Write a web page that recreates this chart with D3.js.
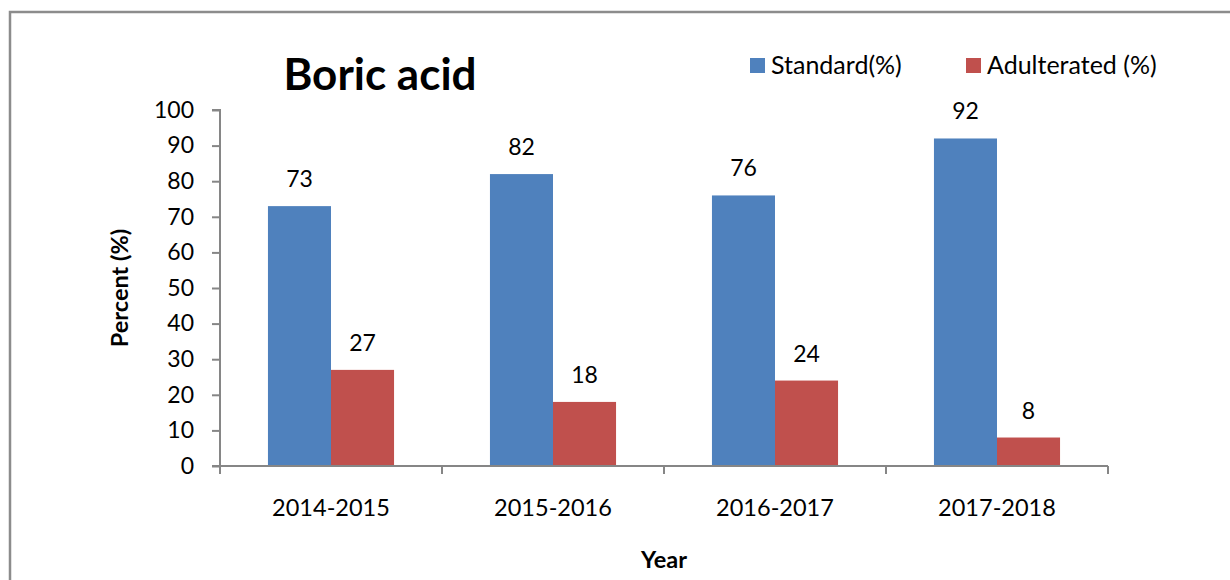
<!DOCTYPE html>
<html>
<head>
<meta charset="utf-8">
<script src="https://cdn.jsdelivr.net/npm/d3@7"></script>
<style>
  html, body { margin: 0; padding: 0; background: #fff; }
  svg { display: block; font-family: Lato, "Open Sans", sans-serif; }
</style>
</head>
<body>
<svg id="chart" width="1230" height="580"></svg>
<script>
const years = ["2014-2015", "2015-2016", "2016-2017", "2017-2018"];
const standard = [73, 82, 76, 92];
const adulterated = [27, 18, 24, 8];
const seriesNames = ["Standard(%)", "Adulterated (%)"];
const seriesColors = ["#4F81BD", "#C0504D"];
const yTicks = [0, 10, 20, 30, 40, 50, 60, 70, 80, 90, 100];

const svg = d3.select("#chart");
const W = 1230, H = 580;

// outer border (extends beyond right/bottom edges)
svg.append("rect")
  .attr("x", 10).attr("y", 12)
  .attr("width", W + 20).attr("height", H + 20)
  .attr("fill", "#fff").attr("stroke", "#8c8c8c").attr("stroke-width", 2.5);

const plot = { left: 220, right: 1108, top: 110, bottom: 466 };

const x = d3.scaleBand().domain(years).range([plot.left, plot.right]).padding(0);
const y = d3.scaleLinear().domain([0, 100]).range([plot.bottom, plot.top]);
const barW = x.bandwidth() * 0.284;

const series = [standard, adulterated];

const g = svg.append("g");
series.forEach((vals, si) => {
  g.selectAll(".bar" + si).data(vals).enter().append("rect")
    .attr("x", (d, i) => x(years[i]) + x.bandwidth() / 2 + (si - 1) * barW)
    .attr("y", d => y(d))
    .attr("width", barW)
    .attr("height", d => y(0) - y(d))
    .attr("fill", seriesColors[si]);
  g.selectAll(".lab" + si).data(vals).enter().append("text")
    .attr("x", (d, i) => x(years[i]) + x.bandwidth() / 2 + (si - 0.5) * barW)
    .attr("y", d => y(d) - 19)
    .attr("text-anchor", "middle")
    .attr("font-size", 23)
    .attr("fill", "#000")
    .text(d => d);
});

// Y axis
const yAxis = d3.axisLeft(y).tickValues(yTicks).tickSize(8).tickPadding(18);
const yg = svg.append("g").attr("transform", `translate(${plot.left},0)`).call(yAxis);
yg.select(".domain").attr("stroke", "#868686").attr("stroke-width", 2).attr("d", `M-8,${plot.top}H0V${plot.bottom}H-8`);
yg.selectAll(".tick line").attr("stroke", "#868686").attr("stroke-width", 2);
yg.selectAll(".tick text").attr("font-size", 23).attr("fill", "#000").attr("font-family", "Lato, sans-serif");

// X axis
const xAxis = d3.axisBottom(x).tickSize(0).tickPadding(33);
const xg = svg.append("g").attr("transform", `translate(0,${plot.bottom})`).call(xAxis);
xg.select(".domain").attr("stroke", "#868686").attr("stroke-width", 2).attr("d", `M${plot.left},0H${plot.right}`);
xg.selectAll(".tick text").attr("font-size", 23.5).attr("fill", "#000").attr("font-family", "Lato, sans-serif");
// boundary tick marks
const bounds = years.map(d => x(d)).concat([x(years[years.length - 1]) + x.bandwidth()]);
xg.selectAll(".bound").data(bounds).enter().append("line")
  .attr("x1", d => d).attr("x2", d => d).attr("y1", 0).attr("y2", 8)
  .attr("stroke", "#868686").attr("stroke-width", 2);

// Title
svg.append("text").attr("x", 380).attr("y", 90)
  .attr("text-anchor", "middle").attr("font-size", 44).attr("font-weight", "bold")
  .text("Boric acid");

// Axis titles
svg.append("text")
  .attr("transform", `translate(128,${(plot.top + plot.bottom) / 2}) rotate(-90)`)
  .attr("text-anchor", "middle").attr("font-size", 23.5).attr("font-weight", "bold")
  .text("Percent (%)");
svg.append("text").attr("x", (plot.left + plot.right) / 2).attr("y", 568)
  .attr("text-anchor", "middle").attr("font-size", 23.5).attr("font-weight", "bold")
  .text("Year");

// Legend
const legX = [750, 966];
seriesNames.forEach((n, i) => {
  svg.append("rect").attr("x", legX[i]).attr("y", 58).attr("width", 15).attr("height", 15)
    .attr("fill", seriesColors[i]);
  svg.append("text").attr("x", legX[i] + 21).attr("y", 74)
    .attr("font-size", 25).text(n);
});
</script>
</body>
</html>
